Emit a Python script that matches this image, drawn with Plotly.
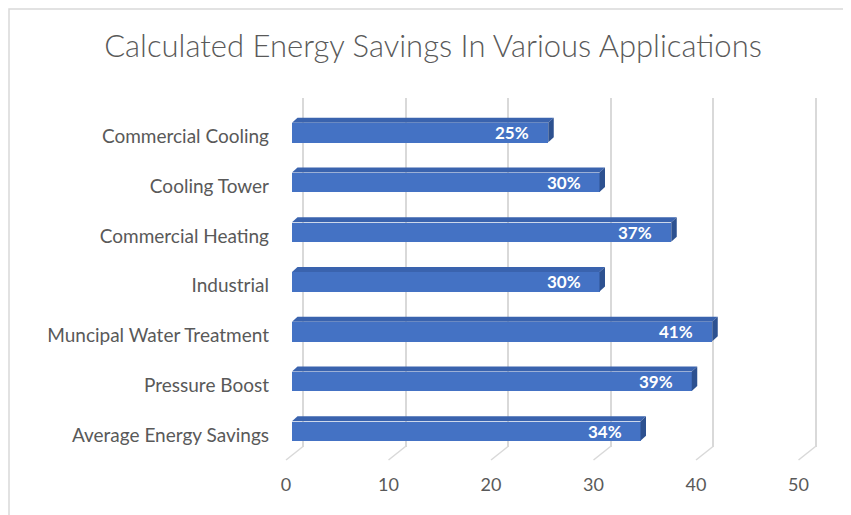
import plotly.graph_objects as go

categories = ["Commercial Cooling", "Cooling Tower", "Commercial Heating", "Industrial",
              "Muncipal Water Treatment", "Pressure Boost", "Average Energy Savings"]
savings = [25, 30, 37, 30, 41, 39, 34]
value_labels = ["25%", "30%", "37%", "30%", "41%", "39%", "34%"]
x_ticks = [0, 10, 20, 30, 40, 50]
title_text = "Calculated Energy Savings In Various Applications"

W, H = 851, 515
OFF = 8  # page body offset
FRONT = "#4472C4"
TOP = "#3a63ae"
SIDE = "#2d5190"
GRID = "#d9d9d9"
TXT = "#595959"
FONT = "Lato"


def px(x):
    return (x - OFF) / W


def py(y):
    return 1 - (y - OFF) / H


positions = list(range(len(categories)))
bar_w = 0.39
x_scale = 10.25   # px per unit
y_scale = 49.75   # px per category
dx = 5.5 / x_scale
dy = 5.0 / y_scale

back_x0 = 303
bar_x0 = 292
lab_x0 = 286
back_top, back_bottom, front_y = 98, 446.5, 460

fig = go.Figure()
# back wall subplot (drawn first -> below bars)
fig.add_trace(go.Scatter(x=[0], y=[0], xaxis="x", yaxis="y", mode="markers",
                         marker=dict(opacity=0), hoverinfo="skip", showlegend=False))
# bars
fig.add_trace(go.Bar(
    x=savings, y=positions, orientation="h", width=bar_w,
    marker=dict(color=FRONT, line=dict(width=0)),
    xaxis="x2", yaxis="y2", hoverinfo="skip", showlegend=False,
))
# front label axis
fig.add_trace(go.Scatter(x=[0], y=[0], xaxis="x3", yaxis="y3", mode="markers",
                         marker=dict(opacity=0), hoverinfo="skip", showlegend=False))

shapes = []
shapes.append(dict(type="rect", xref="paper", yref="paper",
                   x0=1 / W, x1=1.01, y0=-0.01, y1=1 - 1 / H,
                   line=dict(color=GRID, width=1.5), fillcolor="rgba(0,0,0,0)", layer="below"))

for t in x_ticks:
    shapes.append(dict(type="line", xref="x", yref="paper",
                       x0=t, x1=t - 17 / x_scale, y0=py(back_bottom), y1=py(front_y),
                       line=dict(color=GRID, width=1.5), layer="below"))

for i, v in zip(positions, savings):
    top_y = i - bar_w / 2
    bot_y = i + bar_w / 2
    shapes.append(dict(type="path", xref="x2", yref="y2",
                       path=f"M 0,{top_y} L {v},{top_y} L {v+dx},{top_y-dy} L {dx},{top_y-dy} Z",
                       fillcolor=TOP, line=dict(width=0)))
    shapes.append(dict(type="path", xref="x2", yref="y2",
                       path=f"M {v},{top_y} L {v+dx},{top_y-dy} L {v+dx},{bot_y-dy} L {v},{bot_y} Z",
                       fillcolor=SIDE, line=dict(width=0)))

annotations = []
for i, v, lab in zip(positions, savings, value_labels):
    annotations.append(dict(x=v, y=i, xref="x2", yref="y2", text=lab, showarrow=False,
                            xanchor="right", yanchor="middle", xshift=-17,
                            font=dict(family=FONT, size=17, color="white", weight="bold")))

hidden = dict(showgrid=False, zeroline=False, showticklabels=False, ticks="",
              showline=False, automargin=False)

fig.update_layout(
    width=W, height=H,
    margin=dict(l=0, r=0, t=0, b=0, pad=0),
    paper_bgcolor="white", plot_bgcolor="rgba(0,0,0,0)",
    title=dict(text=title_text, x=px(433), xanchor="center", y=py(46), yanchor="middle",
               xref="container", yref="container", automargin=False,
               font=dict(family=FONT, size=31, color=TXT, weight=300)),
    xaxis=dict(domain=[px(back_x0 - 2 * x_scale), px(back_x0 + 52 * x_scale)], range=[-2, 52],
               anchor="y", tickvals=x_ticks, showgrid=True, gridcolor=GRID, gridwidth=1.5,
               zeroline=False, showticklabels=False, ticks="", showline=False, automargin=False),
    yaxis=dict(domain=[py(back_bottom), py(back_top)], range=[0, 1], anchor="x", **hidden),
    xaxis2=dict(domain=[px(bar_x0), px(bar_x0 + 50 * x_scale)], range=[0, 50], anchor="y2", **hidden),
    yaxis2=dict(domain=[py(431 + y_scale / 2), py(132.5 - y_scale / 2)], range=[6.5, -0.5],
                anchor="x2", tickvals=positions, ticktext=categories,
                showgrid=False, zeroline=False, showline=False, ticks="", automargin=False,
                ticklabelstandoff=22, ticklabelshift=-4,
                tickfont=dict(family=FONT, size=19, color=TXT)),
    xaxis3=dict(domain=[px(lab_x0), px(lab_x0 + 50 * x_scale)], range=[0, 50], anchor="y3",
                tickvals=x_ticks, showgrid=False, zeroline=False, showline=False, ticks="",
                automargin=False, tickfont=dict(family=FONT, size=18, color=TXT)),
    yaxis3=dict(domain=[py(472), py(466)], range=[0, 1], anchor="x3", **hidden),
    shapes=shapes,
    annotations=annotations,
    bargap=0,
)

fig.write_html("out.html")
